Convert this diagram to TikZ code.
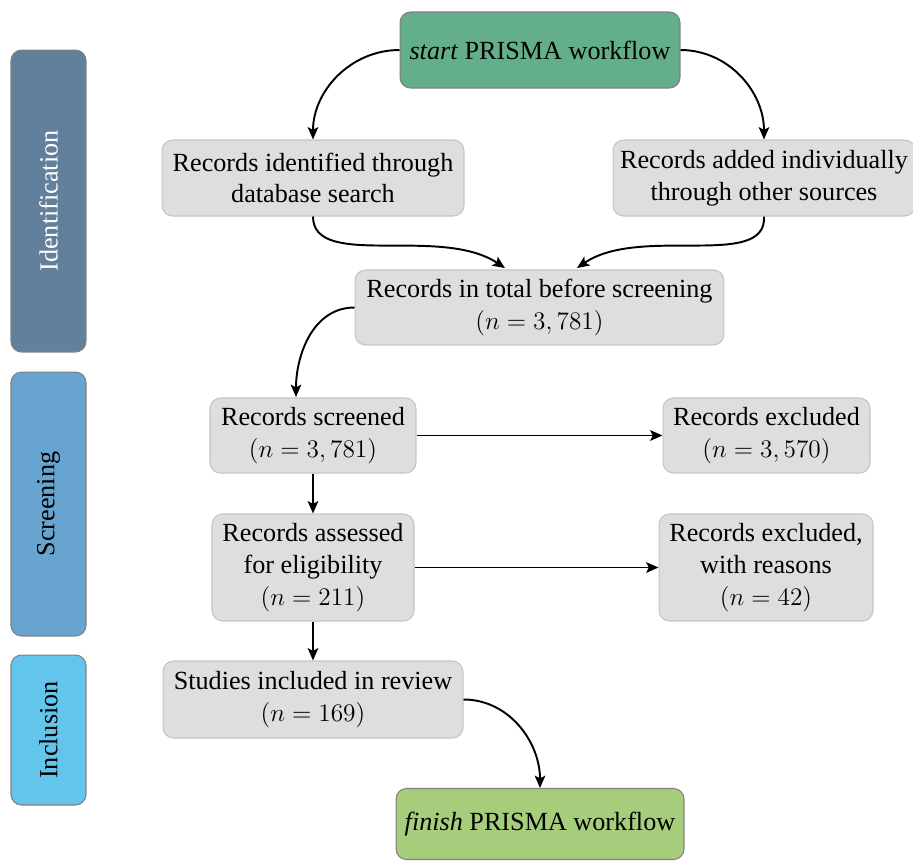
\documentclass[tikz,border=0pt]{standalone}
\usepackage{fontspec}
\setmainfont{Liberation Serif}
\newfontfamily\tnr{Liberation Serif}
\usetikzlibrary{arrows.meta}
\definecolor{startgreen}{HTML}{64AF8B}
\definecolor{finishgreen}{HTML}{A6CD7B}
\definecolor{boxgray}{HTML}{DDDEDE}
\definecolor{bordergray}{HTML}{C4C4C4}
\definecolor{idcol}{HTML}{62809C}
\definecolor{scrcol}{HTML}{67A5D0}
\definecolor{inccol}{HTML}{63C4EC}
\tikzset{
  box/.style={draw=bordergray, line width=0.6pt, fill=boxgray, rounded corners=6pt, align=center, inner sep=0pt,
    font=\tnr\fontsize{14.9}{18}\selectfont},
  sidebar/.style={draw=gray, line width=0.6pt, rounded corners=6pt, inner sep=0pt, minimum width=1.5cm},
  sidetext/.style={rotate=90, font=\tnr\fontsize{14.9}{18}\selectfont},
  conn/.style={line width=1.1pt, -{Stealth[length=7pt,width=6pt,inset=1.5pt]}},
}
\begin{document}
\begin{tikzpicture}[x=0.02cm,y=-0.02cm]
\useasboundingbox (0,0) rectangle (913,860);
% side bars
\node[sidebar, fill=idcol, minimum height=6.04cm] (sid) at (48.5,201) {};
\node[sidetext, text=white] (sidt) at (sid.center) {Identification};
\node[sidebar, fill=scrcol, minimum height=5.28cm] (sscr) at (48.5,504) {};
\node[sidetext] (sscrt) at (sscr.center) {Screening};
\node[sidebar, fill=inccol, minimum height=3.0cm] (sinc) at (48.5,730) {};
\node[sidetext] (sinct) at (sinc.center) {Inclusion};
% boxes
\node[box, draw=gray, fill=startgreen, minimum width=5.6cm, minimum height=1.52cm] (start) at (540,50) {\textit{start} PRISMA workflow};
\node[box, minimum width=6.04cm, minimum height=1.52cm] (ident) at (313,178) {Records identified through\\database search};
\node[box, minimum width=6.04cm, minimum height=1.52cm] (added) at (764,178) {Records added individually\\through other sources};
\node[box, minimum width=7.38cm, minimum height=1.5cm] (total) at (539.5,307.5) {Records in total before screening\\$(n=3,781)$};
\node[box, minimum width=4.12cm, minimum height=1.5cm] (screened) at (313,435.5) {Records screened\\$(n=3,781)$};
\node[box, minimum width=4.14cm, minimum height=1.5cm] (excl) at (766.5,435.5) {Records excluded\\$(n=3,570)$};
\node[box, minimum width=4.04cm, minimum height=2.14cm] (assessed) at (313,567.5) {Records assessed\\for eligibility\\$(n=211)$};
\node[box, minimum width=4.28cm, minimum height=2.14cm] (reasons) at (766,567.5) {Records excluded,\\with reasons\\$(n=42)$};
\node[box, minimum width=6.0cm, minimum height=1.54cm] (incl) at (313,699.5) {Studies included in review\\$(n=169)$};
\node[box, draw=gray, fill=finishgreen, minimum width=5.76cm, minimum height=1.42cm] (finish) at (540,824) {\textit{finish} PRISMA workflow};
% connectors
\coordinate (tin1) at (505,268);
\coordinate (tin2) at (577,268);
\coordinate (sin) at (296,397);
\draw[conn] (start.west) to[out=180,in=90] (ident.north);
\draw[conn] (start.east) to[out=0,in=90] (added.north);
\draw[conn] (ident.south) .. controls (313,270) and (440,225) .. (tin1);
\draw[conn] (added.south) .. controls (767,270) and (640,225) .. (tin2);
\draw[conn] (total.west) to[out=180,in=90] (sin);
\draw[conn] (screened.east) -- (excl.west);
\draw[conn] (screened.south) -- (assessed.north);
\draw[conn] (assessed.east) -- (reasons.west);
\draw[conn] (assessed.south) -- (incl.north);
\draw[conn] (incl.east) to[out=0,in=90] (finish.north);
\end{tikzpicture}
\end{document}
